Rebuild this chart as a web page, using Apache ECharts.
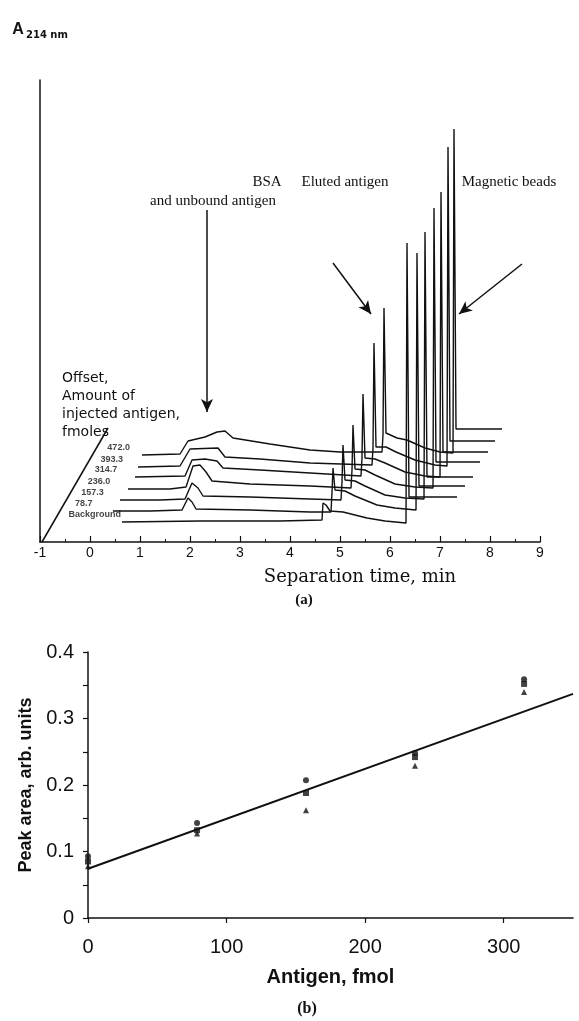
<!DOCTYPE html>
<html><head><meta charset="utf-8">
<script src="https://cdn.jsdelivr.net/npm/echarts@6/dist/echarts.min.js"></script>
<style>html,body{margin:0;padding:0;background:#fff}#c{width:579px;height:1021px}</style>
</head><body><div id="c"></div>
<script>
// ---------- Panel (a): electropherograms (x = separation time, min; y = A214, arbitrary units incl. offset) ----------
const offsetLabels = ['Background', '78.7', '157.3', '236.0', '314.7', '393.3', '472.0'];
const offsetValues = [4.0, 6.2, 8.4, 10.6, 13.0, 15.0, 17.4];
const traceBackground = [[0.64,4.0],[2.2,4.2],[3.8,4.2],[4.64,4.4],[4.66,7.8],[4.72,7.4],[4.8,6.2],[5.06,6.0],[5.54,4.8],[5.9,4.2],[6.32,3.8],[6.34,59.8],[6.38,9.0],[7.34,9.0]];
const trace787 = [[0.46,6.2],[1.2,6.2],[1.84,6.4],[1.96,8.8],[2.04,8.0],[2.12,6.6],[3.2,6.4],[4.4,6.0],[4.82,6.0],[4.84,10.0],[4.86,14.8],[4.9,10.4],[5.1,10.2],[5.3,9.2],[5.74,7.4],[6.1,6.8],[6.52,6.4],[6.54,57.8],[6.58,11.2],[7.5,11.2]];
const trace1573 = [[0.6,8.4],[1.4,8.4],[1.9,8.6],[2.04,11.8],[2.16,10.8],[2.26,9.2],[3.2,9.0],[4.4,8.6],[5.02,8.4],[5.04,12.0],[5.06,19.4],[5.1,12.4],[5.3,12.2],[5.5,11.2],[5.9,9.4],[6.3,8.8],[6.68,8.6],[6.7,62.0],[6.74,13.0],[7.66,13.0]];
const trace2360 = [[0.76,10.6],[1.6,10.6],[1.92,11.0],[2.06,15.2],[2.2,15.4],[2.32,14.0],[2.44,12.2],[3.2,11.6],[4.4,11.2],[5.22,10.8],[5.24,14.4],[5.26,23.4],[5.3,14.6],[5.5,14.4],[5.7,13.4],[6.1,11.6],[6.5,11.0],[6.86,10.8],[6.88,66.8],[6.92,16.0],[7.8,16.0]];
const trace3147 = [[0.9,13.0],[1.9,13.2],[2.04,16.4],[2.3,16.6],[2.54,16.2],[2.66,14.8],[3.4,14.4],[4.4,13.8],[5.42,13.2],[5.44,16.8],[5.46,29.6],[5.5,16.8],[5.7,16.6],[5.9,15.8],[6.3,14.0],[6.7,13.2],[7.0,13.0],[7.02,70.0],[7.06,18.0],[7.96,18.0]];
const trace3933 = [[0.96,15.0],[1.8,15.2],[2.0,18.6],[2.56,18.8],[2.7,17.0],[3.4,16.6],[4.4,15.8],[5.64,15.4],[5.66,18.8],[5.68,39.8],[5.72,19.0],[5.92,19.0],[6.12,18.0],[6.5,16.4],[6.9,15.4],[7.14,15.2],[7.16,79.0],[7.2,20.2],[8.1,20.2]];
const trace4720 = [[1.04,17.4],[1.8,17.6],[1.96,20.2],[2.3,21.0],[2.54,22.0],[2.7,22.2],[2.86,20.8],[3.6,19.6],[4.4,18.4],[5.0,18.0],[5.84,18.0],[5.86,21.4],[5.88,46.8],[5.92,21.8],[6.14,20.8],[6.34,20.4],[6.7,18.8],[7.0,18.0],[7.26,17.8],[7.28,82.6],[7.32,22.6],[8.24,22.6]];
const offsetAxisLine = [[-0.96,0],[0.36,22.8]];
const annotationArrows = [[[2.34,66.4],[2.34,26.0]],[[4.86,55.8],[5.62,45.6]],[[8.64,55.6],[7.38,45.6]]];

// ---------- Panel (b): calibration ----------
const antigenAmounts = [0, 78.7, 157.3, 236.0, 314.7];
const peakAreaRep1 = [0.093, 0.143, 0.207, 0.248, 0.359];
const peakAreaRep2 = [0.085, 0.132, 0.188, 0.242, 0.352];
const peakAreaRep3 = [0.078, 0.127, 0.162, 0.229, 0.340];
const fitLine = [[0, 0.074], [350, 0.337]];

const black = '#111';
const traces = [traceBackground, trace787, trace1573, trace2360, trace3147, trace3933, trace4720];
const series = traces.map(d => ({
  type: 'line', xAxisIndex: 0, yAxisIndex: 0, data: d, symbol: 'none', silent: true,
  lineStyle: { color: black, width: 1.4 }, z: 3
}));
series[0].markLine = {
  silent: true, symbol: ['none', 'arrow'], symbolSize: [9, 13], label: { show: false },
  lineStyle: { color: black, width: 1.5, type: 'solid' },
  emphasis: { disabled: true },
  data: annotationArrows.map(a => [{ coord: a[0] }, { coord: a[1] }])
};
series.push({ type: 'line', xAxisIndex: 0, yAxisIndex: 0, data: offsetAxisLine, symbol: 'none', silent: true, lineStyle: { color: black, width: 1.5 } });
const slope = (offsetAxisLine[1][0] - offsetAxisLine[0][0]) / (offsetAxisLine[1][1] - offsetAxisLine[0][1]);
series.push({
  type: 'scatter', xAxisIndex: 0, yAxisIndex: 0, symbolSize: 0, silent: true,
  data: offsetValues.map((v, i) => ({ value: [offsetAxisLine[0][0] + v * slope, v], name: offsetLabels[i] })),
  label: { show: true, position: 'right', distance: 15, offset: [0, -7], formatter: p => p.name,
    fontSize: 9, fontWeight: 'bold', fontFamily: 'Liberation Sans', color: black }
});
series.push({ type: 'line', xAxisIndex: 1, yAxisIndex: 1, data: fitLine, symbol: 'none', silent: true, lineStyle: { color: black, width: 2 } });
[peakAreaRep1, peakAreaRep2, peakAreaRep3].forEach((r, k) => series.push({
  type: 'scatter', xAxisIndex: 1, yAxisIndex: 1, silent: true,
  data: antigenAmounts.map((a, i) => [a, r[i]]),
  symbol: ['circle', 'rect', 'triangle'][k], symbolSize: 6, itemStyle: { color: black }
}));

const serif = 'Liberation Serif';
const sans = 'Liberation Sans';
function txt(text, x, y, font, size, weight, align) {
  return { type: 'text', x: x, y: y, silent: true, style: { text: text, fontFamily: font, fontSize: size,
    fontWeight: weight || 'normal', fill: black, align: align || 'center', verticalAlign: 'middle' } };
}

const option = {
  animation: false,
  backgroundColor: '#fff',
  grid: [
    { left: 40, right: 39, top: 80, bottom: 479 },
    { left: 88, right: 6, top: 652, bottom: 103 }
  ],
  xAxis: [
    { type: 'value', gridIndex: 0, min: -1, max: 9, interval: 1,
      axisLine: { onZero: false, lineStyle: { color: black, width: 1.5 } },
      axisTick: { inside: true, length: 6, lineStyle: { color: black, width: 1.2 } },
      minorTick: { show: true, splitNumber: 2, length: 3, lineStyle: { color: black, width: 1 } },
      splitLine: { show: false },
      axisLabel: { color: black, fontSize: 14, fontFamily: sans, margin: 4 } },
    { type: 'value', gridIndex: 1, min: 0, max: 350, interval: 100,
      axisLine: { onZero: false, lineStyle: { color: black, width: 1.5 } },
      axisTick: { length: 5, lineStyle: { color: black, width: 1.2 }, customValues: [0, 100, 200, 300] },
      splitLine: { show: false },
      axisLabel: { color: black, fontSize: 20, fontFamily: sans, margin: 19, customValues: [0, 100, 200, 300] },
      name: 'Antigen, fmol', nameLocation: 'middle', nameGap: 49,
      nameTextStyle: { color: black, fontSize: 20, fontWeight: 'bold', fontFamily: sans } }
  ],
  yAxis: [
    { type: 'value', gridIndex: 0, min: 0, max: 92.4,
      axisLine: { show: true, onZero: false, lineStyle: { color: black, width: 1.5 } },
      axisTick: { show: false }, axisLabel: { show: false }, splitLine: { show: false } },
    { type: 'value', gridIndex: 1, min: 0, max: 0.4, interval: 0.1,
      axisLine: { show: true, onZero: false, lineStyle: { color: black, width: 1.5 } },
      axisTick: { show: true, length: 5, lineStyle: { color: black, width: 1.2 } },
      minorTick: { show: true, splitNumber: 2, length: 5, lineStyle: { color: black, width: 1.2 } },
      splitLine: { show: false },
      axisLabel: { color: black, fontSize: 20, fontFamily: sans, margin: 14 },
      name: 'Peak area, arb. units', nameLocation: 'middle', nameGap: 44,
      nameTextStyle: { color: black, fontSize: 18, fontWeight: 'bold', fontFamily: sans } }
  ],
  series: series,
  graphic: [
    txt('A', 18, 30, sans, 16, 'bold'),
    txt('214 nm', 26, 35, 'DejaVu Sans', 10, 'bold', 'left'),
    txt('BSA', 267, 182, serif, 15),
    txt('and unbound antigen', 213, 201, serif, 15),
    txt('Eluted antigen', 345, 182, serif, 15),
    txt('Magnetic beads', 509, 182, serif, 15),
    txt('Offset,', 62, 378, 'DejaVu Sans', 14, 'normal', 'left'),
    txt('Amount of', 62, 396, 'DejaVu Sans', 14, 'normal', 'left'),
    txt('injected antigen,', 62, 414, 'DejaVu Sans', 14, 'normal', 'left'),
    txt('fmoles', 62, 432, 'DejaVu Sans', 14, 'normal', 'left'),
    txt('Separation time, min', 360, 577, 'DejaVu Serif', 18),
    txt('(a)', 304, 600, serif, 15, 'bold'),
    txt('(b)', 307, 1009, serif, 16, 'bold')
  ]
};
const chart = echarts.init(document.getElementById('c'));
chart.setOption(option);
</script>
</body></html>
